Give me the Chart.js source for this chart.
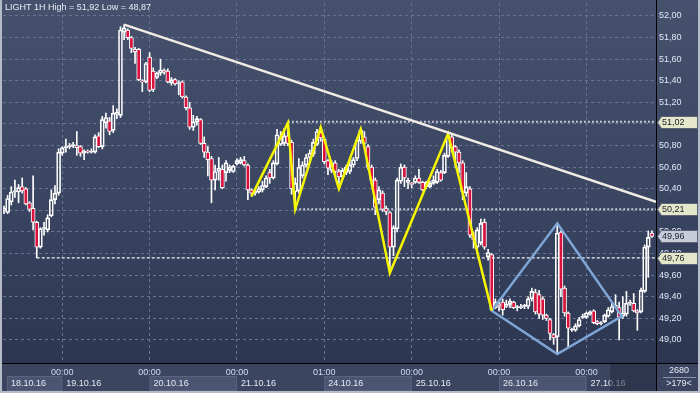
<!DOCTYPE html>
<html>
<head>
<meta charset="utf-8">
<script src="https://cdn.jsdelivr.net/npm/chart.js@4.4.1/dist/chart.umd.min.js"></script>
<style>
  html, body { margin: 0; padding: 0; overflow: hidden; background: #2e3852; }
  #grafico { display: block; }
</style>
</head>
<body>
<canvas id="grafico" width="700" height="393"></canvas>
<script>
// velas 1H, una por hora (indice 0 = 18.10 08:00)
var opens = [
  50.20,50.18,50.28,50.37,50.37,50.42,50.40,50.27,50.22,50.09, 49.86,50.03,50.02,50.15,50.30,50.36,50.73,50.78,50.79,50.80,
  50.80,50.79,50.73,50.75,50.74,50.74,50.89,50.79,51.01,51.03, 50.94,51.09,51.08,51.85,51.87,51.80,51.69,51.69,51.40,51.39,
  51.62,51.49,51.43,51.47,51.50,51.49,51.38,51.41,51.37,51.39, 51.25,51.15,50.97,51.02,51.04,50.82,50.74,50.68,50.48,50.56,
  50.58,50.55,50.57,50.56,50.63,50.64,50.66,50.62,50.39,50.36, 50.37,50.39,50.42,50.55,50.50,50.63,50.81,50.82,50.89,50.83,
  50.37,50.38,50.52,50.62,50.69,50.72,50.81,50.92,50.86,50.66, 50.57,50.64,50.56,50.51,50.55,50.56,50.62,50.68,50.84,50.88,
  50.79,50.60,50.48,50.30,50.36,50.22,50.18,49.86,50.03,50.47, 50.60,50.46,50.45,50.46,50.50,50.46,50.42,50.42,50.45,50.46,
  50.55,50.55,50.70,50.88,50.79,50.74,50.64,50.36,50.40,49.98, 49.86,49.90,50.09,49.77,49.79,49.30,49.33,49.35,49.31,49.33,
  49.35,49.30,49.30,49.31,49.31,49.38,49.44,49.42,49.38,49.23, 49.19,49.05,49.03,50.00,49.48,49.25,49.09,49.09,49.13,49.21,
  49.21,49.24,49.27,49.17,49.15,49.17,49.22,49.26,49.31,49.30, 49.22,49.24,49.34,49.34,49.27,49.26,49.45,49.86,49.99
];
var highs = [
  50.24,50.34,50.42,50.48,50.44,50.50,50.41,50.28,50.52,50.10, 50.04,50.09,50.16,50.39,50.43,50.77,50.79,50.86,50.82,50.83,
  50.93,50.80,50.76,50.76,50.77,50.90,50.92,51.07,51.10,51.06, 51.17,51.14,51.90,51.92,51.88,51.81,51.71,51.70,51.41,51.57,
  51.66,51.52,51.48,51.60,51.51,51.51,51.43,51.42,51.40,51.40, 51.26,51.20,51.08,51.07,51.05,50.88,50.79,50.70,50.62,50.69,
  50.62,50.66,50.62,50.62,50.68,50.69,50.70,50.63,50.40,50.40, 50.42,50.47,50.52,50.58,50.66,50.95,50.93,50.96,51.01,50.85,
  50.50,50.68,50.65,50.72,50.76,50.86,50.95,50.97,50.88,50.67, 50.66,50.66,50.58,50.59,50.62,50.66,50.69,50.87,50.95,50.93,
  50.81,50.62,50.50,50.42,50.38,50.24,50.19,50.06,50.50,50.63, 50.62,50.50,50.46,50.52,50.58,50.47,50.47,50.47,50.52,50.58,
  50.57,50.73,50.91,50.90,50.80,50.76,50.66,50.55,50.42,50.00, 50.04,50.12,50.12,49.84,49.80,49.38,49.37,49.38,49.37,49.38,
  49.36,49.32,49.33,49.33,49.40,49.48,49.47,49.46,49.40,49.24, 49.20,49.06,50.08,50.01,49.50,49.26,49.11,49.15,49.21,49.24,
  49.26,49.27,49.28,49.18,49.17,49.24,49.30,49.35,49.42,49.35, 49.40,49.45,49.37,49.43,49.28,49.48,49.88,50.01,50.01
];
var lows = [
  50.17,50.17,50.25,50.32,50.27,50.36,50.25,50.19,50.02,49.76, 49.85,49.97,50.00,50.14,50.26,50.34,50.71,50.74,50.77,50.78,
  50.71,50.70,50.67,50.73,50.73,50.73,50.78,50.77,50.96,50.90, 50.92,51.05,51.06,51.78,51.78,51.66,51.56,51.40,51.30,51.38,
  51.30,51.30,51.42,51.45,51.46,51.38,51.36,51.36,51.27,51.24, 51.13,50.95,50.94,50.99,50.81,50.69,50.52,50.27,50.39,50.48,
  50.40,50.47,50.55,50.55,50.62,50.63,50.61,50.30,50.33,50.34, 50.36,50.37,50.41,50.45,50.49,50.62,50.80,50.80,50.80,50.35,
  50.21,50.36,50.50,50.60,50.67,50.70,50.80,50.84,50.63,50.53, 50.55,50.52,50.40,50.49,50.53,50.54,50.60,50.66,50.82,50.80,
  50.58,50.45,50.16,50.26,50.19,50.16,49.62,49.78,50.00,50.45, 50.42,50.40,50.41,50.45,50.45,50.38,50.40,50.41,50.44,50.45,
  50.47,50.54,50.69,50.74,50.60,50.55,50.30,50.33,49.95,49.85, 49.80,49.88,49.84,49.74,49.27,49.29,49.27,49.23,49.30,49.30,
  49.29,49.27,49.29,49.29,49.29,49.36,49.24,49.20,49.19,49.18, 49.00,48.96,48.87,49.40,49.22,48.93,49.08,49.08,49.12,49.20,
  49.20,49.23,49.15,49.14,49.14,49.16,49.21,49.25,49.30,49.00, 49.20,49.22,49.32,49.26,49.09,49.25,49.44,49.58,49.95
];
var closes = [
  50.22,50.31,50.37,50.38,50.41,50.38,50.26,50.21,50.09,49.86, 50.03,50.04,50.13,50.30,50.36,50.74,50.78,50.79,50.80,50.81,
  50.78,50.73,50.75,50.74,50.75,50.88,50.79,51.04,51.06,50.93, 51.10,51.11,51.87,51.89,51.80,51.70,51.67,51.41,51.39,51.56,
  51.31,51.32,51.47,51.50,51.48,51.39,51.41,51.37,51.38,51.25, 51.15,50.97,51.02,51.05,50.82,50.74,50.67,50.48,50.56,50.59,
  50.41,50.64,50.60,50.61,50.66,50.67,50.62,50.39,50.36,50.38, 50.40,50.43,50.50,50.50,50.64,50.90,50.88,50.89,50.82,50.40,
  50.45,50.60,50.62,50.69,50.73,50.83,50.93,50.87,50.65,50.59, 50.64,50.56,50.51,50.57,50.60,50.62,50.67,50.85,50.94,50.82,
  50.60,50.48,50.23,50.39,50.21,50.19,49.86,50.04,50.48,50.60, 50.50,50.48,50.44,50.50,50.46,50.39,50.46,50.45,50.48,50.56,
  50.48,50.71,50.88,50.78,50.74,50.64,50.37,50.42,49.97,49.93, 50.02,50.08,49.86,49.81,49.28,49.35,49.32,49.28,49.33,49.36,
  49.30,49.31,49.31,49.32,49.38,49.45,49.26,49.24,49.23,49.20, 49.06,49.02,49.99,49.47,49.25,49.11,49.10,49.13,49.19,49.22,
  49.25,49.26,49.16,49.15,49.16,49.23,49.28,49.31,49.32,49.21, 49.25,49.34,49.35,49.27,49.25,49.46,49.86,49.95,49.96
];

var yTicks = [49.00, 49.20, 49.40, 49.60, 49.80, 50.00, 50.20, 50.40, 50.60, 50.80, 51.00, 51.20, 51.40, 51.60, 51.80, 52.00];
var timeTicks = [16, 40, 64, 88, 112, 136, 160];
var timeLabels = ['00:00', '00:00', '00:00', '01:00', '00:00', '00:00', '00:00'];
var dayStarts = [0, 16, 40, 64, 88, 112, 136, 160];
var dayLabels = ['18.10.16', '19.10.16', '20.10.16', '21.10.16', '24.10.16', '25.10.16', '26.10.16', '27.10.16'];

// dibujos sobre el grafico: [indice de vela, precio]
var trendLine = [[33, 51.92], [179.12, 50.28]];
var zigzag = [[68, 50.33], [78, 51.01], [80, 50.21], [87, 50.97], [92, 50.40], [98, 50.95], [106, 49.62], [122, 50.91], [134, 49.27]];
var diamond = [[134, 49.27], [152, 50.08], [169.7, 49.22], [152, 48.87], [134, 49.27]];
var levels = [51.02, 50.21, 49.76];
var levelStarts = [78, 80, 9];
var lastPrice = 49.96;

var titulo = 'LIGHT 1H High = 51,92 Low = 48,87';
var infoBarras = ['2680', '>179<'];

var xMin = -0.275, xMax = 179.12;
var fuente = '"Liberation Sans", Arial, sans-serif';
var tamFuente = 9;
var rojo = '#d8123c';

function aPuntos(lista) {
  return lista.map(function(p) { return {x: p[0], y: p[1]} })
}

var cuerpos = [], mechasArriba = [], mechasAbajo = [], coloresCuerpo = [];
for (var i = 0; i < opens.length; i++) {
  var arriba = Math.max(opens[i], closes[i]);
  var abajo = Math.min(opens[i], closes[i]);
  cuerpos.push({x: i, y: [opens[i], closes[i]]});
  mechasArriba.push({x: i, y: [arriba, highs[i]]});
  mechasAbajo.push({x: i, y: [lows[i], abajo]});
  coloresCuerpo.push(closes[i] < opens[i] ? rojo : 'rgba(0,0,0,0)');
}

var datasets = [
  {type: 'bar', data: mechasArriba, backgroundColor: '#ffffff', borderWidth: 0, barThickness: 1, grouped: false, order: 5},
  {type: 'bar', data: mechasAbajo, backgroundColor: '#ffffff', borderWidth: 0, barThickness: 1, grouped: false, order: 5},
  {type: 'bar', data: cuerpos, backgroundColor: coloresCuerpo, borderColor: '#ffffff', borderWidth: 1,
   borderSkipped: false, barThickness: 4, grouped: false, order: 4}
];

var estilosNivel = [
  {color: '#c3c7d2', width: 2, dash: [2, 2]},
  {color: '#c3c7d2', width: 2, dash: [2, 2]},
  {color: '#f2f2f2', width: 1.2, dash: [3, 2]}
];
levels.forEach(function(nivel, k) {
  datasets.push({type: 'line', data: [{x: levelStarts[k], y: nivel}, {x: xMax, y: nivel}],
    borderColor: estilosNivel[k].color, borderWidth: estilosNivel[k].width, borderDash: estilosNivel[k].dash,
    pointRadius: 0, fill: false, tension: 0, order: 3});
});
datasets.push({type: 'line', data: aPuntos(trendLine), borderColor: '#f1ede6', borderWidth: 2.5,
  pointRadius: 0, fill: false, tension: 0, order: 1});
datasets.push({type: 'line', data: aPuntos(zigzag), borderColor: '#f5f500', borderWidth: 2.5,
  pointRadius: 0, fill: false, tension: 0, order: 1});
datasets.push({type: 'line', data: aPuntos(diamond), borderColor: '#7fa6d6', borderWidth: 2.5,
  pointRadius: 0, fill: false, tension: 0, order: 1});

var fondo = {
  id: 'fondo',
  beforeDraw: function(chart) {
    var ctx = chart.ctx, area = chart.chartArea, xs = chart.scales.x;
    var g = ctx.createLinearGradient(0, 0, 0, area.bottom);
    g.addColorStop(0, '#46516e');
    g.addColorStop(0.55, '#3a4562');
    g.addColorStop(1, '#2c3650');
    ctx.save();
    ctx.fillStyle = g;
    ctx.fillRect(0, 0, 700, area.bottom);
    // franja del eje de tiempo
    ctx.fillStyle = '#3b4560';
    ctx.fillRect(0, area.bottom, 700, 393 - area.bottom);
    ctx.font = tamFuente + 'px ' + fuente;
    ctx.textBaseline = 'middle';
    for (var k = 0; k < dayStarts.length; k++) {
      var x1 = Math.max(xs.getPixelForValue(dayStarts[k]), area.left + 4);
      var x2 = k + 1 < dayStarts.length ? xs.getPixelForValue(dayStarts[k + 1]) : area.right;
      if (k % 2 === 0) {
        ctx.fillStyle = '#4b5572';
        ctx.fillRect(x1, 376, x2 - x1, 15);
        ctx.strokeStyle = '#59637e';
        ctx.lineWidth = 1;
        ctx.strokeRect(x1 + 0.5, 376.5, x2 - x1 - 1, 14);
      }
      ctx.fillStyle = '#e3e9f3';
      ctx.fillText(dayLabels[k], x1 + 4, 384);
    }
    ctx.fillStyle = 'rgba(34,42,62,0.55)';
    ctx.fillRect(610, area.bottom, area.right - 610, 393 - area.bottom);
    ctx.restore();
  },
  afterDraw: function(chart) {
    var ctx = chart.ctx, area = chart.chartArea, ys = chart.scales.y;
    ctx.save();
    // lineas separadoras
    ctx.strokeStyle = '#000000';
    ctx.lineWidth = 1;
    ctx.beginPath();
    ctx.moveTo(0, area.bottom + 0.5); ctx.lineTo(700, area.bottom + 0.5);
    ctx.moveTo(area.right + 0.5, 0); ctx.lineTo(area.right + 0.5, 393);
    ctx.stroke();
    // etiquetas de precio
    function etiqueta(precio, relleno) {
      var y = Math.round(ys.getPixelForValue(precio)) + 0.5;
      ctx.beginPath();
      ctx.moveTo(area.right + 1.5, y);
      ctx.lineTo(area.right + 5.5, y - 6);
      ctx.lineTo(697.5, y - 6);
      ctx.lineTo(697.5, y + 6);
      ctx.lineTo(area.right + 5.5, y + 6);
      ctx.closePath();
      ctx.fillStyle = relleno;
      ctx.fill();
      ctx.strokeStyle = '#5d6374';
      ctx.stroke();
      ctx.fillStyle = '#1b1f2b';
      ctx.font = tamFuente + 'px ' + fuente;
      ctx.textBaseline = 'middle';
      ctx.textAlign = 'left';
      ctx.fillText(precio.toFixed(2).replace('.', ','), area.right + 6, y + 0.5);
    }
    levels.forEach(function(n) { etiqueta(n, '#e4e7c9') });
    etiqueta(lastPrice, '#c6ccd9');
    // titulo
    ctx.fillStyle = '#e9edf5';
    ctx.font = tamFuente + 'px ' + fuente;
    ctx.textAlign = 'left';
    ctx.textBaseline = 'middle';
    ctx.fillText(titulo, 5, 8);
    // info de barras
    ctx.textAlign = 'center';
    ctx.fillStyle = '#e3e9f3';
    ctx.fillText(infoBarras[0], 679, 371);
    ctx.fillText(infoBarras[1], 679, 384);
    ctx.strokeStyle = '#8a94aa';
    ctx.beginPath();
    ctx.moveTo(663, 377.5); ctx.lineTo(696, 377.5);
    ctx.stroke();
    // marco
    ctx.fillStyle = '#b5bbc7';
    ctx.fillRect(0, 0, 2, 393);
    ctx.fillRect(698, 0, 2, 393);
    ctx.fillRect(0, 391, 700, 2);
    ctx.restore();
  }
};

var ctx = document.getElementById('grafico').getContext('2d');
var chart = new Chart(ctx, {
  type: 'bar',
  data: {datasets: datasets},
  options: {
    responsive: false,
    animation: false,
    devicePixelRatio: 1,
    layout: {padding: {left: 3, top: 3, right: 0, bottom: 0}},
    plugins: {legend: {display: false}, tooltip: {enabled: false}},
    scales: {
      x: {
        type: 'linear', min: xMin, max: xMax, offset: false,
        afterBuildTicks: function(s) { s.ticks = timeTicks.map(function(v) { return {value: v} }) },
        afterFit: function(s) { s.height = 30; s.paddingLeft = 0; s.paddingRight = 0; },
        grid: {color: '#68748f', lineWidth: 1, drawTicks: false, offset: false},
        border: {display: false, dash: [3, 3]},
        ticks: {
          padding: 4, color: '#cfdcf2', maxRotation: 0, autoSkip: false,
          font: {family: fuente, size: tamFuente},
          callback: function(v, idx) { return timeLabels[idx] }
        }
      },
      y: {
        type: 'linear', position: 'right', min: 48.787, max: 52.12, beginAtZero: false,
        afterBuildTicks: function(s) { s.ticks = yTicks.map(function(v) { return {value: v} }) },
        afterFit: function(s) { s.width = 44; s.paddingTop = 0; s.paddingBottom = 0; },
        grid: {color: '#68748f', lineWidth: 1, drawTicks: false},
        border: {display: false, dash: [3, 3]},
        ticks: {
          padding: 3, color: '#dfe7f5',
          font: {family: fuente, size: tamFuente},
          callback: function(v) { return v.toFixed(2).replace('.', ',') }
        }
      }
    }
  },
  plugins: [fondo]
});
</script>
</body>
</html>
